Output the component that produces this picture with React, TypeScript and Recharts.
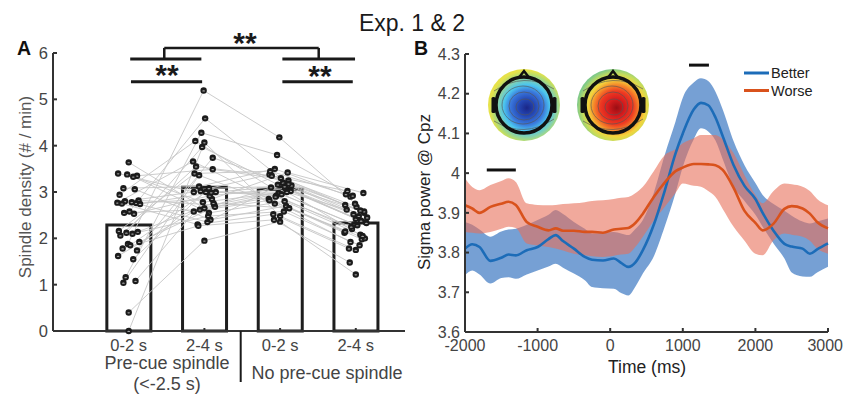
import React from 'react';
import { ComposedChart, Bar, Line, Scatter, Area, XAxis, YAxis, ReferenceLine } from 'recharts';

// ---------- Panel A data ----------
const conditionLabels = ['0-2 s', '2-4 s', '0-2 s', '2-4 s'];
const conditionPositions = [1, 2, 3, 4];
const meanDensity = [2.29, 3.1, 3.06, 2.33];

// per-subject spindle density (# / min), index = subject
const preCue02 = [3.64, 3.4, 3.38, 3.35, 3.33, 3.08, 3.06, 2.94, 2.82, 2.8, 2.78, 2.77, 2.76, 2.75, 2.74, 2.58, 2.55, 2.53, 2.16, 2.14, 2.12, 2.1, 2.06, 1.92, 1.88, 1.85, 1.78, 1.74, 1.62, 1.55, 1.16, 1.08, 1.04, 0.4, 0.0];
const preCue24 = [2.65, 3.0, 2.78, 3.49, 2.55, 3.12, 2.4, 4.1, 2.72, 3.02, 2.35, 3.66, 2.85, 2.3, 3.0, 4.59, 2.62, 2.92, 3.4, 2.76, 3.97, 2.48, 3.55, 2.68, 5.19, 3.0, 2.27, 3.74, 2.58, 3.08, 4.28, 2.99, 3.36, 1.95, 4.07];
const noPre02 = [3.15, 3.38, 2.98, 3.25, 2.8, 3.5, 2.7, 3.1, 3.05, 2.92, 3.2, 2.85, 3.42, 2.52, 3.14, 3.3, 2.9, 3.08, 3.45, 2.65, 3.16, 2.58, 3.35, 3.02, 4.18, 2.95, 2.4, 3.18, 2.82, 3.12, 3.8, 3.0, 2.75, 2.36, 2.48];
const noPre24 = [2.42, 2.72, 2.3, 2.55, 2.08, 2.9, 1.98, 2.62, 2.35, 2.2, 2.48, 2.12, 2.98, 1.78, 2.45, 2.68, 2.25, 2.38, 2.95, 2.0, 2.52, 1.85, 3.02, 2.33, 2.75, 2.28, 1.48, 2.58, 2.15, 2.6, 2.92, 2.05, 1.92, 1.22, 1.75];
// horizontal scatter of the dots (in category units)
const jitter = [0, -0.14, -0.02, 0.11, 0.06, -0.07, 0.08, -0.12, 0.13, -0.05, 0.04, -0.15, 0.1, -0.09, 0.15, 0.01, -0.06, 0.07, -0.13, 0.12, -0.03, 0.05, -0.11, 0.14, -0.01, 0.02, -0.08, 0.11, -0.14, 0.06, -0.04, 0.09, -0.07, 0.0, 0.0];

// ---------- Panel B data ----------
const timeMs = [-2000, -1900, -1800, -1650, -1500, -1400, -1300, -1150, -1000, -850, -750, -650, -500, -350, -250, -100, 50, 150, 250, 350, 450, 600, 750, 900, 1000, 1150, 1250, 1350, 1450, 1550, 1700, 1850, 2000, 2100, 2250, 2400, 2500, 2650, 2750, 2850, 3000];
const betterMean = [3.81, 3.821, 3.814, 3.779, 3.787, 3.795, 3.793, 3.806, 3.814, 3.834, 3.844, 3.829, 3.81, 3.789, 3.782, 3.78, 3.785, 3.774, 3.764, 3.776, 3.806, 3.87, 3.955, 4.05, 4.1, 4.16, 4.177, 4.171, 4.14, 4.093, 4.02, 3.968, 3.935, 3.9, 3.855, 3.822, 3.815, 3.81, 3.797, 3.808, 3.823];
const betterUpper = [3.877, 3.87, 3.858, 3.84, 3.853, 3.858, 3.86, 3.87, 3.882, 3.895, 3.907, 3.897, 3.877, 3.86, 3.848, 3.85, 3.852, 3.848, 3.844, 3.86, 3.882, 3.95, 4.045, 4.13, 4.19, 4.228, 4.239, 4.232, 4.205, 4.16, 4.08, 4.02, 3.975, 3.945, 3.922, 3.905, 3.893, 3.878, 3.873, 3.878, 3.886];
const betterLower = [3.743, 3.755, 3.745, 3.722, 3.736, 3.738, 3.734, 3.745, 3.755, 3.765, 3.772, 3.762, 3.747, 3.73, 3.713, 3.71, 3.709, 3.698, 3.692, 3.715, 3.747, 3.79, 3.865, 3.95, 4.016, 4.085, 4.113, 4.105, 4.082, 4.035, 3.966, 3.93, 3.895, 3.865, 3.823, 3.785, 3.75, 3.74, 3.739, 3.75, 3.764];
const worseMean = [3.919, 3.911, 3.9, 3.915, 3.923, 3.928, 3.92, 3.877, 3.865, 3.856, 3.861, 3.855, 3.855, 3.852, 3.852, 3.85, 3.858, 3.86, 3.862, 3.875, 3.898, 3.94, 3.976, 4.005, 4.014, 4.023, 4.023, 4.022, 4.02, 4.008, 3.963, 3.905, 3.875, 3.856, 3.873, 3.91, 3.917, 3.911, 3.898, 3.877, 3.861];
const worseUpper = [3.987, 3.965, 3.957, 3.97, 3.98, 3.987, 3.978, 3.924, 3.92, 3.919, 3.92, 3.922, 3.924, 3.927, 3.93, 3.932, 3.935, 3.938, 3.94, 3.95, 3.966, 4.005, 4.045, 4.06, 4.075, 4.088, 4.096, 4.096, 4.096, 4.085, 4.05, 3.995, 3.945, 3.924, 3.955, 3.974, 3.972, 3.966, 3.955, 3.935, 3.919];
const worseLower = [3.852, 3.85, 3.848, 3.852, 3.86, 3.865, 3.862, 3.823, 3.818, 3.814, 3.81, 3.805, 3.797, 3.793, 3.791, 3.789, 3.792, 3.795, 3.797, 3.815, 3.84, 3.88, 3.915, 3.95, 3.974, 3.968, 3.966, 3.955, 3.94, 3.91, 3.865, 3.83, 3.797, 3.793, 3.831, 3.848, 3.845, 3.84, 3.83, 3.81, 3.797];
const sigmaTicks = [3.6, 3.7, 3.8, 3.9, 4.0, 4.1, 4.2, 4.3];
const timeTicks = [-2000, -1000, 0, 1000, 2000, 3000];
const significantWindows = [
  { from: -1700, to: -1300, y: 4.008 },
  { from: 1085, to: 1360, y: 4.272 },
];

// ---------- build tables ----------
const subjectColumns = [preCue02, preCue24, noPre02, noPre24];
const barData = conditionPositions.map((x, i) => ({ x, y: meanDensity[i] }));
const subjectLines = preCue02.map((_, s) =>
  subjectColumns.map((col, c) => ({ x: conditionPositions[c] + jitter[s], y: col[s] }))
);
const dots = subjectColumns.flatMap((col, c) =>
  col.map((v, s) => ({ x: conditionPositions[c] + jitter[s], y: v }))
);
const sigmaData = timeMs.map((t, i) => ({
  t,
  better: betterMean[i],
  betterBand: [betterLower[i], betterUpper[i]],
  worse: worseMean[i],
  worseBand: [worseLower[i], worseUpper[i]],
}));

const FONT = '"Liberation Sans", Arial, Helvetica, sans-serif';
const AX = '#333';
const TICK = '#444';

const Dot = (props: any) => {
  const { cx, cy } = props;
  if (cx == null || cy == null) return <g />;
  return (
    <g>
      <circle cx={cx} cy={cy} r={3.2} fill="#1b1b1b" />
      <ellipse cx={cx} cy={cy + 0.4} rx={1.4} ry={0.6} fill="#a8a8a8" />
    </g>
  );
};

// time tick: the last label hugs the right edge, as in the figure
const TimeTick = (props: any) => {
  const { x, y, payload } = props;
  const last = payload.value === timeTicks[timeTicks.length - 1];
  return (
    <text x={last ? 843 - 420 : x} y={y} dy="0.71em" textAnchor={last ? 'end' : 'middle'} fontSize={16} fill={TICK}>
      {payload.value}
    </text>
  );
};

const Topo = ({ cx, cy, grad }: { cx: number; cy: number; grad: string }) => (
  <g>
    <circle cx={cx} cy={cy} r={36} fill={`url(#${grad})`} />
    <g fill="none" stroke="#555" strokeWidth={0.8} opacity={0.8}>
      <ellipse cx={cx + 1} cy={cy + 2} rx={9} ry={8} />
      <ellipse cx={cx} cy={cy + 1} rx={15} ry={14} />
      <ellipse cx={cx - 1} cy={cy} rx={21} ry={19} />
      <path d={`M ${cx - 30} ${cy - 14} Q ${cx} ${cy - 34} ${cx + 30} ${cy - 16}`} />
      <path d={`M ${cx - 30} ${cy + 16} Q ${cx} ${cy + 34} ${cx + 30} ${cy + 14}`} />
    </g>
    <circle cx={cx} cy={cy} r={28} fill="none" stroke="#111" strokeWidth={3.5} />
    <path d={`M ${cx - 5} ${cy - 27.5} L ${cx} ${cy - 34} L ${cx + 5} ${cy - 27.5}`} fill="none" stroke="#111" strokeWidth={2.5} />
    <rect x={cx - 32.5} y={cy - 8} width={4} height={16} rx={1.5} fill="#111" />
    <rect x={cx + 28.5} y={cy - 8} width={4} height={16} rx={1.5} fill="#111" />
  </g>
);

const bracket = { stroke: '#1a1a1a', strokeWidth: 3, ifOverflow: 'visible' as const };

export default function App() {
  return (
    <div style={{ position: 'relative', width: 844, height: 396, fontFamily: FONT, background: '#fff' }}>
      <style>{`body{margin:0}`}</style>

      {/* Panel A */}
      <div style={{ position: 'absolute', left: 0, top: 0 }}>
        <ComposedChart width={420} height={396} data={barData} margin={{ top: 53, right: 15, bottom: 35, left: 0 }}>
          <XAxis
            type="number"
            dataKey="x"
            height={30}
            domain={[0, 4.65]}
            ticks={conditionPositions}
            tickFormatter={(v: number) => conditionLabels[conditionPositions.indexOf(v)] ?? ''}
            tick={{ fontSize: 16.5, fill: TICK }}
            tickSize={-3}
            tickMargin={11.5}
            axisLine={{ stroke: AX, strokeWidth: 2 }}
            tickLine={{ stroke: AX, strokeWidth: 2 }}
            allowDataOverflow
          />
          <XAxis xAxisId="bars" type="number" dataKey="x" domain={[0, 4.65]} ticks={conditionPositions} hide height={30} />
          <YAxis
            type="number"
            dataKey="y"
            domain={[0, 6]}
            ticks={[0, 1, 2, 3, 4, 5, 6]}
            width={53}
            tick={{ fontSize: 16.5, fill: TICK }}
            tickSize={-4}
            tickMargin={9}
            axisLine={{ stroke: AX, strokeWidth: 2 }}
            tickLine={{ stroke: AX, strokeWidth: 2 }}
          />
          {subjectLines.map((d, s) => (
            <Line
              key={`s${s}`}
              data={d}
              dataKey="y"
              stroke="#c6c6c6"
              strokeWidth={0.9}
              dot={false}
              activeDot={false}
              isAnimationActive={false}
              type="linear"
            />
          ))}
          <Bar xAxisId="bars" dataKey="y" barSize={44} fill="none" stroke="#1e1e1e" strokeWidth={3} isAnimationActive={false} />
          <Scatter data={dots} shape={<Dot />} isAnimationActive={false} />
          <ReferenceLine segment={[{ x: 1.03, y: 5.38 }, { x: 1.97, y: 5.38 }]} {...bracket} />
          <ReferenceLine segment={[{ x: 3.03, y: 5.38 }, { x: 3.96, y: 5.38 }]} {...bracket} />
          <ReferenceLine segment={[{ x: 1.02, y: 5.87 }, { x: 1.96, y: 5.87 }]} {...bracket} />
          <ReferenceLine segment={[{ x: 3.03, y: 5.87 }, { x: 3.99, y: 5.87 }]} {...bracket} />
          <ReferenceLine segment={[{ x: 1.47, y: 5.87 }, { x: 1.47, y: 6.11 }]} {...bracket} strokeWidth={2.5} />
          <ReferenceLine segment={[{ x: 3.51, y: 5.87 }, { x: 3.51, y: 6.11 }]} {...bracket} strokeWidth={2.5} />
          <ReferenceLine segment={[{ x: 1.47, y: 6.11 }, { x: 3.51, y: 6.11 }]} {...bracket} strokeWidth={2.5} />
        </ComposedChart>
      </div>

      {/* Panel B */}
      <div style={{ position: 'absolute', left: 420, top: 0 }}>
        <ComposedChart width={424} height={396} data={sigmaData} margin={{ top: 54, right: 16, bottom: 34, left: 0 }}>
          <XAxis
            type="number"
            dataKey="t"
            height={30}
            domain={[-2000, 3000]}
            ticks={timeTicks}
            tick={<TimeTick />}
            tickSize={-4}
            tickMargin={11.5}
            axisLine={{ stroke: AX, strokeWidth: 2 }}
            tickLine={{ stroke: AX, strokeWidth: 2 }}
          />
          <YAxis
            type="number"
            domain={[3.6, 4.3]}
            ticks={sigmaTicks}
            tickFormatter={(v: number) => String(Number(v.toFixed(1)))}
            width={45}
            tick={{ fontSize: 16, fill: TICK }}
            tickSize={-4}
            tickMargin={9}
            axisLine={{ stroke: AX, strokeWidth: 2 }}
            tickLine={{ stroke: AX, strokeWidth: 2 }}
            allowDataOverflow
          />
          <Area dataKey="betterBand" type="monotone" stroke="none" fill="#2f6fbe" fillOpacity={0.66} isAnimationActive={false} activeDot={false} />
          <Line dataKey="better" type="monotone" stroke="#1c6cb8" strokeWidth={2.6} dot={false} activeDot={false} isAnimationActive={false} />
          <Area dataKey="worseBand" type="monotone" stroke="none" fill="#e8705a" fillOpacity={0.6} isAnimationActive={false} activeDot={false} />
          <Line dataKey="worse" type="monotone" stroke="#d9521c" strokeWidth={2.6} dot={false} activeDot={false} isAnimationActive={false} />
          {significantWindows.map((w, i) => (
            <ReferenceLine key={`w${i}`} segment={[{ x: w.from, y: w.y }, { x: w.to, y: w.y }]} stroke="#111" strokeWidth={3} ifOverflow="visible" />
          ))}
        </ComposedChart>
      </div>

      {/* texts & inset maps */}
      <svg width={844} height={396} style={{ position: 'absolute', left: 0, top: 0, pointerEvents: 'none' }} fontFamily={FONT}>
        <defs>
          <radialGradient id="topoBlue" cx="54%" cy="54%" r="52%">
            <stop offset="0%" stopColor="#1a2687" />
            <stop offset="22%" stopColor="#2447b4" />
            <stop offset="45%" stopColor="#3a78dc" />
            <stop offset="62%" stopColor="#4cc6ee" />
            <stop offset="76%" stopColor="#7fd0b4" />
            <stop offset="90%" stopColor="#b9dc6a" />
            <stop offset="100%" stopColor="#e6e24a" />
          </radialGradient>
          <radialGradient id="topoRed" cx="55%" cy="54%" r="55%">
            <stop offset="0%" stopColor="#9a0e14" />
            <stop offset="22%" stopColor="#d61c1e" />
            <stop offset="42%" stopColor="#ee3a22" />
            <stop offset="58%" stopColor="#f58a2a" />
            <stop offset="72%" stopColor="#f3d43c" />
            <stop offset="86%" stopColor="#c4dc5c" />
            <stop offset="100%" stopColor="#7ec98a" />
          </radialGradient>
        </defs>

        <text x={412} y={31} textAnchor="middle" fontSize={23} fill="#1a1a1a">Exp. 1 &amp; 2</text>
        <text x={17} y={55} fontSize={19.5} fontWeight="bold" fill="#111">A</text>
        <text x={414} y={55} fontSize={19.5} fontWeight="bold" fill="#111">B</text>

        <text transform="translate(25,187) rotate(-90)" textAnchor="middle" dy="0.35em" fontSize={17} fill="#555">Spindle density (# / min)</text>
        <text x={167} y={369} textAnchor="middle" fontSize={18} fill="#444">Pre-cue spindle</text>
        <text x={167} y={390} textAnchor="middle" fontSize={18} fill="#444">(&lt;-2.5 s)</text>
        <text x={327} y={379} textAnchor="middle" fontSize={18} fill="#444">No pre-cue spindle</text>
        <line x1={240.7} y1={331} x2={240.7} y2={382} stroke="#1a1a1a" strokeWidth={2} />

        <text x={245} y={53} textAnchor="middle" fontSize={30} fontWeight="bold" fill="#1a1a1a">**</text>
        <text x={167} y={85} textAnchor="middle" fontSize={30} fontWeight="bold" fill="#1a1a1a">**</text>
        <text x={320} y={86} textAnchor="middle" fontSize={30} fontWeight="bold" fill="#1a1a1a">**</text>

        <text transform="translate(424,192) rotate(-90)" textAnchor="middle" dy="0.35em" fontSize={17} fill="#222">Sigma power @ Cpz</text>
        <text x={647} y={373} textAnchor="middle" fontSize={17.5} fill="#222">Time (ms)</text>

        <line x1={744} y1={73} x2={769} y2={73} stroke="#1c6cb8" strokeWidth={3} />
        <text x={771} y={78} fontSize={14.5} fill="#222">Better</text>
        <line x1={744} y1={90.5} x2={769} y2={90.5} stroke="#d9521c" strokeWidth={3} />
        <text x={771} y={96} fontSize={14.5} fill="#222">Worse</text>

        <Topo cx={524} cy={105} grad="topoBlue" />
        <Topo cx={613} cy={105} grad="topoRed" />
      </svg>
    </div>
  );
}
